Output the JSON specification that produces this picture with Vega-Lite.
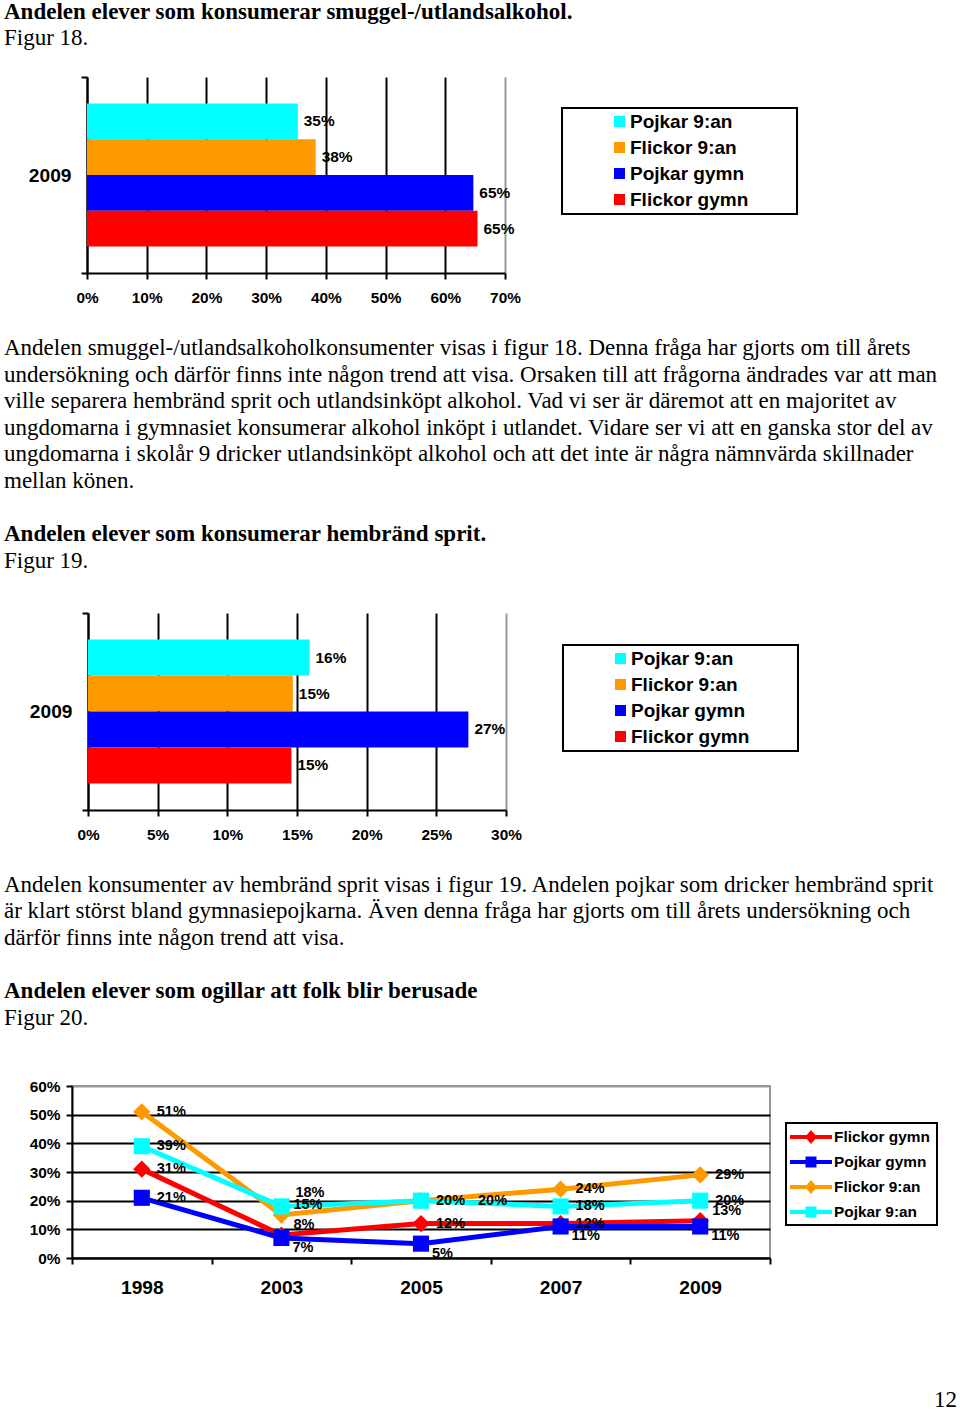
{
  "$schema": "https://vega.github.io/schema/vega-lite/v6.json",
  "background": "white",
  "padding": {"left": 4, "top": 0, "right": 0, "bottom": 0},
  "spacing": 0,
  "bounds": "flush",
  "config": {"view": {"stroke": null}, "font": "Liberation Sans"},
  "resolve": {
    "scale": {"x": "independent", "y": "independent", "color": "independent", "shape": "independent", "yOffset": "independent", "fill": "independent", "stroke": "independent"},
    "legend": {"color": "independent", "shape": "independent", "fill": "independent", "stroke": "independent"}
  },
  "vconcat": [
    {
      "width": 860, "height": 77,
      "data": {"values": [
        {"l": 1, "t": "Andelen elever som konsumerar smuggel-/utlandsalkohol.", "b": true},
        {"l": 2, "t": "Figur 18.", "b": false}
      ]},
      "encoding": {
        "y": {"field": "l", "type": "quantitative", "scale": {"domain": [0.297, 3.192], "reverse": true, "nice": false, "zero": false}, "axis": null},
        "text": {"field": "t", "type": "nominal"}
      },
      "layer": [
        {"transform": [{"filter": "datum.b"}], "mark": {"type": "text", "x": 0, "dx": -68, "align": "left", "baseline": "alphabetic", "font": "Liberation Serif", "fontSize": 23, "fontWeight": "bold", "color": "black"}},
        {"transform": [{"filter": "!datum.b"}], "mark": {"type": "text", "x": 0, "dx": -68, "align": "left", "baseline": "alphabetic", "font": "Liberation Serif", "fontSize": 23, "fontWeight": "normal", "color": "black"}}
      ]
    },
    {
      "width": 433, "height": 196,
      "data": {"values": [
        {"year": "2009", "series": "Pojkar 9:an", "value": 0.353},
        {"year": "2009", "series": "Flickor 9:an", "value": 0.383},
        {"year": "2009", "series": "Pojkar gymn", "value": 0.647},
        {"year": "2009", "series": "Flickor gymn", "value": 0.654}
      ]},
      "encoding": {
        "y": {"field": "year", "type": "nominal", "scale": {"paddingInner": 0, "paddingOuter": 0},
          "axis": {"title": null, "offset": -15, "tickBand": "extent", "domainColor": "black", "domainWidth": 2, "tickColor": "black", "tickWidth": 2, "tickSize": 6, "labelFont": "Liberation Sans", "labelFontSize": 19.2, "labelFontWeight": "bold", "labelColor": "black", "labelPadding": 10}},
        "yOffset": {"field": "series", "type": "nominal", "scale": {"domain": ["Pojkar 9:an", "Flickor 9:an", "Pojkar gymn", "Flickor gymn"], "paddingInner": 0, "paddingOuter": 0.74}},
        "x": {"field": "value", "type": "quantitative", "scale": {"domain": [0, 0.7], "range": [15, 433], "nice": false},
          "axis": {"title": null, "values": [0, 0.1, 0.2, 0.3, 0.4, 0.5, 0.6, 0.7], "format": ".0%", "grid": true, "labelFlush": false,
            "gridColor": {"condition": {"test": "datum.value > 0.69", "value": "#999999"}, "value": "black"}, "gridWidth": 2,
            "domainColor": "black", "domainWidth": 2, "tickColor": "black", "tickWidth": 2, "tickSize": 6,
            "labelFont": "Liberation Sans", "labelFontSize": 15.4, "labelFontWeight": "bold", "labelColor": "black", "labelPadding": 11}}
      },
      "layer": [
        {"mark": {"type": "bar"},
          "encoding": {"color": {"field": "series", "type": "nominal",
            "scale": {"domain": ["Pojkar 9:an", "Flickor 9:an", "Pojkar gymn", "Flickor gymn"], "range": ["#00FFFF", "#FF9900", "#0000FF", "#FF0000"]},
            "legend": {"orient": "none", "legendX": 490, "legendY": 31, "title": ".", "titleOrient": "right", "titleOpacity": 0, "titleFontSize": 10, "titlePadding": 42,
              "symbolType": "square", "symbolSize": 121, "symbolStrokeWidth": 0, "symbolOffset": 44, "labelOffset": 1,
              "labelFont": "Liberation Sans", "labelFontWeight": "bold", "labelFontSize": 19, "labelColor": "black", "rowPadding": 6, "padding": 4, "strokeColor": "black",
              "encode": {"legend": {"update": {"strokeWidth": {"value": 2}}}}}}}},
        {"mark": {"type": "text", "align": "left", "baseline": "middle", "dx": 6, "font": "Liberation Sans", "fontSize": 15.4, "fontWeight": "bold", "color": "black"},
          "encoding": {"text": {"field": "value", "type": "quantitative", "format": ".0%"}}}
      ]
    },
    {
      "width": 860, "height": 340,
      "data": {"values": [
        {"l": 1, "t": "Andelen smuggel-/utlandsalkoholkonsumenter visas i figur 18. Denna fråga har gjorts om till årets", "b": false},
        {"l": 2, "t": "undersökning och därför finns inte någon trend att visa. Orsaken till att frågorna ändrades var att man", "b": false},
        {"l": 3, "t": "ville separera hembränd sprit och utlandsinköpt alkohol. Vad vi ser är däremot att en majoritet av", "b": false},
        {"l": 4, "t": "ungdomarna i gymnasiet konsumerar alkohol inköpt i utlandet. Vidare ser vi att en ganska stor del av", "b": false},
        {"l": 5, "t": "ungdomarna i skolår 9 dricker utlandsinköpt alkohol och att det inte är några nämnvärda skillnader", "b": false},
        {"l": 6, "t": "mellan könen.", "b": false},
        {"l": 8, "t": "Andelen elever som konsumerar hembränd sprit.", "b": true},
        {"l": 9, "t": "Figur 19.", "b": false}
      ]},
      "encoding": {
        "y": {"field": "l", "type": "quantitative", "scale": {"domain": [-2.083, 10.699], "reverse": true, "nice": false, "zero": false}, "axis": null},
        "text": {"field": "t", "type": "nominal"}
      },
      "layer": [
        {"transform": [{"filter": "datum.b"}], "mark": {"type": "text", "x": 0, "dx": -68, "align": "left", "baseline": "alphabetic", "font": "Liberation Serif", "fontSize": 23, "fontWeight": "bold", "color": "black"}},
        {"transform": [{"filter": "!datum.b"}], "mark": {"type": "text", "x": 0, "dx": -68, "align": "left", "baseline": "alphabetic", "font": "Liberation Serif", "fontSize": 23, "fontWeight": "normal", "color": "black"}}
      ]
    },
    {
      "width": 434, "height": 197,
      "data": {"values": [
        {"year": "2009", "series": "Pojkar 9:an", "value": 0.159},
        {"year": "2009", "series": "Flickor 9:an", "value": 0.147},
        {"year": "2009", "series": "Pojkar gymn", "value": 0.273},
        {"year": "2009", "series": "Flickor gymn", "value": 0.146}
      ]},
      "encoding": {
        "y": {"field": "year", "type": "nominal", "scale": {"paddingInner": 0, "paddingOuter": 0},
          "axis": {"title": null, "offset": -16, "tickBand": "extent", "domainColor": "black", "domainWidth": 2, "tickColor": "black", "tickWidth": 2, "tickSize": 6, "labelFont": "Liberation Sans", "labelFontSize": 19.2, "labelFontWeight": "bold", "labelColor": "black", "labelPadding": 10}},
        "yOffset": {"field": "series", "type": "nominal", "scale": {"domain": ["Pojkar 9:an", "Flickor 9:an", "Pojkar gymn", "Flickor gymn"], "paddingInner": 0, "paddingOuter": 0.74}},
        "x": {"field": "value", "type": "quantitative", "scale": {"domain": [0, 0.3], "range": [16, 434], "nice": false},
          "axis": {"title": null, "values": [0, 0.05, 0.1, 0.15, 0.2, 0.25, 0.3], "format": ".0%", "grid": true, "labelFlush": false,
            "gridColor": {"condition": {"test": "datum.value > 0.29", "value": "#999999"}, "value": "black"}, "gridWidth": 2,
            "domainColor": "black", "domainWidth": 2, "tickColor": "black", "tickWidth": 2, "tickSize": 6,
            "labelFont": "Liberation Sans", "labelFontSize": 15.4, "labelFontWeight": "bold", "labelColor": "black", "labelPadding": 11}}
      },
      "layer": [
        {"mark": {"type": "bar"},
          "encoding": {"color": {"field": "series", "type": "nominal",
            "scale": {"domain": ["Pojkar 9:an", "Flickor 9:an", "Pojkar gymn", "Flickor gymn"], "range": ["#00FFFF", "#FF9900", "#0000FF", "#FF0000"]},
            "legend": {"orient": "none", "legendX": 491, "legendY": 32, "title": ".", "titleOrient": "right", "titleOpacity": 0, "titleFontSize": 10, "titlePadding": 42,
              "symbolType": "square", "symbolSize": 121, "symbolStrokeWidth": 0, "symbolOffset": 44, "labelOffset": 1,
              "labelFont": "Liberation Sans", "labelFontWeight": "bold", "labelFontSize": 19, "labelColor": "black", "rowPadding": 6, "padding": 4, "strokeColor": "black",
              "encode": {"legend": {"update": {"strokeWidth": {"value": 2}}}}}}}},
        {"mark": {"type": "text", "align": "left", "baseline": "middle", "dx": 6, "font": "Liberation Sans", "fontSize": 15.4, "fontWeight": "bold", "color": "black"},
          "encoding": {"text": {"field": "value", "type": "quantitative", "format": ".0%"}}}
      ]
    },
    {
      "width": 860, "height": 276,
      "data": {"values": [
        {"l": 1, "t": "Andelen konsumenter av hembränd sprit visas i figur 19. Andelen pojkar som dricker hembränd sprit", "b": false},
        {"l": 2, "t": "är klart störst bland gymnasiepojkarna. Även denna fråga har gjorts om till årets undersökning och", "b": false},
        {"l": 3, "t": "därför finns inte någon trend att visa.", "b": false},
        {"l": 5, "t": "Andelen elever som ogillar att folk blir berusade", "b": true},
        {"l": 6, "t": "Figur 20.", "b": false}
      ]},
      "encoding": {
        "y": {"field": "l", "type": "quantitative", "scale": {"domain": [-2.071, 8.305], "reverse": true, "nice": false, "zero": false}, "axis": null},
        "text": {"field": "t", "type": "nominal"}
      },
      "layer": [
        {"transform": [{"filter": "datum.b"}], "mark": {"type": "text", "x": 0, "dx": -68, "align": "left", "baseline": "alphabetic", "font": "Liberation Serif", "fontSize": 23, "fontWeight": "bold", "color": "black"}},
        {"transform": [{"filter": "!datum.b"}], "mark": {"type": "text", "x": 0, "dx": -68, "align": "left", "baseline": "alphabetic", "font": "Liberation Serif", "fontSize": 23, "fontWeight": "normal", "color": "black"}}
      ]
    },
    {
      "width": 698, "height": 172,
      "view": {"stroke": "#999999", "strokeWidth": 2},
      "data": {"values": [
        {"series": "Flickor gymn", "year": "1998", "value": 0.31},
        {"series": "Flickor gymn", "year": "2003", "value": 0.08},
        {"series": "Flickor gymn", "year": "2005", "value": 0.12},
        {"series": "Flickor gymn", "year": "2007", "value": 0.12},
        {"series": "Flickor gymn", "year": "2009", "value": 0.13},
        {"series": "Pojkar gymn", "year": "1998", "value": 0.21},
        {"series": "Pojkar gymn", "year": "2003", "value": 0.07},
        {"series": "Pojkar gymn", "year": "2005", "value": 0.05},
        {"series": "Pojkar gymn", "year": "2007", "value": 0.11},
        {"series": "Pojkar gymn", "year": "2009", "value": 0.11},
        {"series": "Flickor 9:an", "year": "1998", "value": 0.51},
        {"series": "Flickor 9:an", "year": "2003", "value": 0.15},
        {"series": "Flickor 9:an", "year": "2005", "value": 0.20},
        {"series": "Flickor 9:an", "year": "2007", "value": 0.24},
        {"series": "Flickor 9:an", "year": "2009", "value": 0.29},
        {"series": "Pojkar 9:an", "year": "1998", "value": 0.39},
        {"series": "Pojkar 9:an", "year": "2003", "value": 0.18},
        {"series": "Pojkar 9:an", "year": "2005", "value": 0.20},
        {"series": "Pojkar 9:an", "year": "2007", "value": 0.18},
        {"series": "Pojkar 9:an", "year": "2009", "value": 0.20}
      ]},
      "encoding": {
        "x": {"field": "year", "type": "nominal", "scale": {"type": "band", "paddingInner": 0, "paddingOuter": 0},
          "axis": {"title": null, "labelAngle": 0, "tickBand": "extent", "domainColor": "black", "domainWidth": 2, "tickColor": "black", "tickWidth": 2, "tickSize": 6,
            "labelFont": "Liberation Sans", "labelFontSize": 19.2, "labelFontWeight": "bold", "labelColor": "black", "labelPadding": 14.5}},
        "y": {"field": "value", "type": "quantitative", "scale": {"domain": [0, 0.6], "nice": false},
          "axis": {"title": null, "values": [0, 0.1, 0.2, 0.3, 0.4, 0.5, 0.6], "format": ".0%", "grid": true,
            "gridColor": {"condition": {"test": "datum.value > 0.59", "value": "#999999"}, "value": "black"}, "gridWidth": 2,
            "domainColor": "black", "domainWidth": 2, "tickColor": "black", "tickWidth": 2, "tickSize": 6,
            "labelFont": "Liberation Sans", "labelFontSize": 15.4, "labelFontWeight": "bold", "labelColor": "black", "labelPadding": 6}}
      },
      "layer": [
        {"mark": {"type": "line", "strokeWidth": 5},
          "encoding": {"stroke": {"field": "series", "type": "nominal",
            "scale": {"domain": ["Pojkar 9:an", "Flickor 9:an", "Pojkar gymn", "Flickor gymn"], "range": ["#00FFFF", "#FF9900", "#0000FF", "#FF0000"]},
            "legend": null}}},
        {"transform": [{"filter": "datum.series == 'Flickor gymn' || datum.series == 'Flickor 9:an'"}],
          "mark": {"type": "point", "shape": "diamond", "filled": true, "opacity": 1, "size": 300},
          "encoding": {"fill": {"field": "series", "type": "nominal",
            "scale": {"domain": ["Pojkar 9:an", "Flickor 9:an", "Pojkar gymn", "Flickor gymn"], "range": ["#00FFFF", "#FF9900", "#0000FF", "#FF0000"]},
            "legend": null}}},
        {"transform": [{"filter": "datum.series == 'Pojkar gymn' || datum.series == 'Pojkar 9:an'"}],
          "mark": {"type": "point", "shape": "square", "filled": true, "opacity": 1, "size": 260},
          "encoding": {"fill": {"field": "series", "type": "nominal", "legend": null}}},
        {"mark": {"type": "point", "filled": true, "opacity": 1, "size": 0, "strokeWidth": 0},
          "encoding": {
            "color": {"field": "series", "type": "nominal",
              "scale": {"domain": ["Flickor gymn", "Pojkar gymn", "Flickor 9:an", "Pojkar 9:an"], "range": ["#FF0000", "#0000FF", "#FF9900", "#00FFFF"]},
              "legend": {"orient": "none", "legendX": 714, "legendY": 37, "title": ".", "titleOrient": "right", "titleOpacity": 0, "titleFontSize": 4, "titlePadding": 1,
                "symbolSize": 400, "symbolStrokeWidth": 0, "symbolOffset": 11, "labelOffset": 13,
                "labelFont": "Liberation Sans", "labelFontWeight": "bold", "labelFontSize": 15.4, "labelColor": "black", "rowPadding": 6, "padding": 4, "strokeColor": "black", "symbolOpacity": 1,
                "encode": {"legend": {"update": {"strokeWidth": {"value": 2}}}}}},
            "shape": {"field": "series", "type": "nominal",
              "scale": {"domain": ["Flickor gymn", "Pojkar gymn", "Flickor 9:an", "Pojkar 9:an"],
                "range": [
                  "M-2.1,-0.2H2.1V0.2H-2.1Z M0,-0.7L0.6,0L0,0.7L-0.6,0Z",
                  "M-2.1,-0.2H2.1V0.2H-2.1Z M-0.55,-0.55H0.55V0.55H-0.55Z",
                  "M-2.1,-0.2H2.1V0.2H-2.1Z M0,-0.7L0.6,0L0,0.7L-0.6,0Z",
                  "M-2.1,-0.2H2.1V0.2H-2.1Z M-0.55,-0.55H0.55V0.55H-0.55Z"]},
              "legend": {"orient": "none", "legendX": 714, "legendY": 37, "title": ".", "titleOrient": "right", "titleOpacity": 0, "titleFontSize": 4, "titlePadding": 1,
                "symbolSize": 400, "symbolStrokeWidth": 0, "symbolOffset": 11, "labelOffset": 13,
                "labelFont": "Liberation Sans", "labelFontWeight": "bold", "labelFontSize": 15.4, "labelColor": "black", "rowPadding": 6, "padding": 4, "strokeColor": "black", "symbolOpacity": 1,
                "encode": {"legend": {"update": {"strokeWidth": {"value": 2}}}}}}
          }},
        {"transform": [{"filter": "indexof(['Flickor gymn|2003','Flickor 9:an|2003','Flickor gymn|2009','Pojkar 9:an|2003','Pojkar gymn|2003','Pojkar gymn|2005','Pojkar gymn|2007','Pojkar gymn|2009','Pojkar 9:an|2005'], datum.series + '|' + datum.year) < 0"}],
          "mark": {"type": "text", "align": "left", "baseline": "middle", "dx": 15, "dy": 0, "font": "Liberation Sans", "fontSize": 14.5, "fontWeight": "bold", "color": "black"},
          "encoding": {"text": {"field": "value", "type": "quantitative", "format": ".0%"}}},
        {"transform": [{"filter": "indexof(['Flickor gymn|2003','Flickor 9:an|2003','Flickor gymn|2009'], datum.series + '|' + datum.year) >= 0"}],
          "mark": {"type": "text", "align": "left", "baseline": "middle", "dx": 12, "dy": -10, "font": "Liberation Sans", "fontSize": 14.5, "fontWeight": "bold", "color": "black"},
          "encoding": {"text": {"field": "value", "type": "quantitative", "format": ".0%"}}},
        {"transform": [{"filter": "indexof(['Pojkar 9:an|2003'], datum.series + '|' + datum.year) >= 0"}],
          "mark": {"type": "text", "align": "left", "baseline": "middle", "dx": 14, "dy": -13, "font": "Liberation Sans", "fontSize": 14.5, "fontWeight": "bold", "color": "black"},
          "encoding": {"text": {"field": "value", "type": "quantitative", "format": ".0%"}}},
        {"transform": [{"filter": "indexof(['Pojkar gymn|2003','Pojkar gymn|2005','Pojkar gymn|2007','Pojkar gymn|2009'], datum.series + '|' + datum.year) >= 0"}],
          "mark": {"type": "text", "align": "left", "baseline": "middle", "dx": 11, "dy": 10, "font": "Liberation Sans", "fontSize": 14.5, "fontWeight": "bold", "color": "black"},
          "encoding": {"text": {"field": "value", "type": "quantitative", "format": ".0%"}}},
        {"transform": [{"filter": "indexof(['Pojkar 9:an|2005'], datum.series + '|' + datum.year) >= 0"}],
          "mark": {"type": "text", "align": "left", "baseline": "middle", "dx": 57, "dy": 0, "font": "Liberation Sans", "fontSize": 14.5, "fontWeight": "bold", "color": "black"},
          "encoding": {"text": {"field": "value", "type": "quantitative", "format": ".0%"}}}
      ]
    },
    {
      "width": 885, "height": 154,
      "data": {"values": [{"l": 1, "t": "12"}]},
      "mark": {"type": "text", "x": "width", "align": "right", "baseline": "alphabetic", "font": "Liberation Serif", "fontSize": 23, "color": "black"},
      "encoding": {
        "y": {"field": "l", "type": "quantitative", "scale": {"domain": [-4.602, 1.188], "reverse": true, "nice": false, "zero": false}, "axis": null},
        "text": {"field": "t", "type": "nominal"}
      }
    }
  ]
}
